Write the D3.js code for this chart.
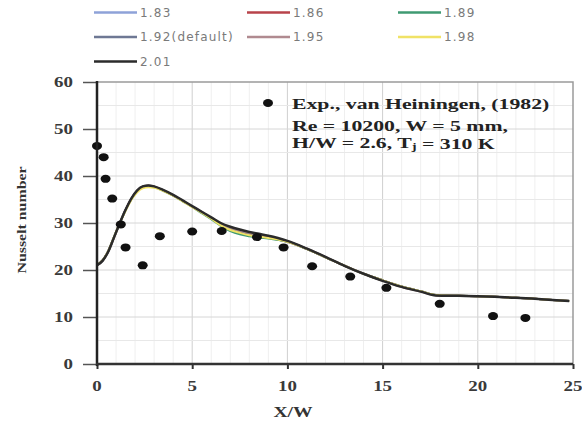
<!DOCTYPE html>
<html>
<head>
<meta charset="utf-8">
<style>
  body { margin: 0; background: #fff; }
  svg text { font-family: "Liberation Serif", "Times New Roman", serif; }
</style>
</head>
<body>
<div id="container"></div>
<script src="https://d3js.org/d3.v7.min.js"></script>
<script>
// ---- data ----
var xs = [0, 0.3, 0.6, 0.9, 1.2, 1.5, 1.8, 2.1, 2.4, 2.7, 3.0, 3.5, 4.0, 4.5, 5.0, 5.5, 6.0, 6.5, 7.0, 7.5, 8.0, 8.5, 9.0, 9.5, 10.0, 11.0, 12.0, 13.0, 14.0, 15.0, 16.0, 17.0, 17.8, 19.0, 20.0, 22.0, 24.8];

var nu183 = [21.1, 22.1, 24.1, 27.1, 30.0, 32.8, 35.1, 36.8, 37.7, 37.9, 37.7, 36.9, 35.9, 34.7, 33.5, 32.3, 31.0, 29.7, 28.8, 28.1, 27.6, 27.2, 26.9, 26.5, 26.0, 24.5, 22.7, 20.9, 19.2, 17.8, 16.5, 15.5, 14.7, 14.5, 14.4, 14.1, 13.4];
var nu186 = [21.1, 22.1, 24.1, 27.0, 30.0, 32.8, 35.1, 36.8, 37.7, 37.9, 37.7, 36.9, 35.9, 34.7, 33.5, 32.3, 31.0, 29.8, 28.9, 28.2, 27.7, 27.3, 26.9, 26.5, 26.0, 24.5, 22.7, 20.9, 19.2, 17.8, 16.5, 15.5, 14.7, 14.5, 14.4, 14.1, 13.4];
var nu189 = [21.1, 22.1, 24.1, 27.1, 30.0, 32.7, 35.0, 36.7, 37.6, 37.8, 37.6, 36.8, 35.8, 34.6, 33.4, 32.1, 30.8, 29.4, 28.3, 27.6, 27.2, 26.9, 26.7, 26.4, 26.0, 24.5, 22.7, 20.9, 19.2, 17.8, 16.5, 15.5, 14.7, 14.5, 14.4, 14.1, 13.4];
var nu192 = [21.0, 22.0, 24.0, 27.0, 30.0, 32.8, 35.1, 36.8, 37.7, 37.9, 37.7, 36.9, 35.9, 34.7, 33.5, 32.3, 31.1, 29.8, 28.9, 28.3, 27.8, 27.4, 27.0, 26.6, 26.1, 24.5, 22.7, 20.9, 19.2, 17.8, 16.5, 15.5, 14.7, 14.5, 14.4, 14.1, 13.4];
var nu195 = [21.0, 22.0, 24.0, 27.0, 30.0, 32.8, 35.1, 36.8, 37.7, 37.9, 37.7, 36.9, 35.9, 34.7, 33.5, 32.3, 31.1, 29.9, 29.0, 28.4, 27.9, 27.5, 27.1, 26.7, 26.1, 24.6, 22.8, 20.9, 19.2, 17.7, 16.4, 15.4, 14.6, 14.5, 14.4, 14.1, 13.4];
var nu198 = [21.1, 22.1, 24.1, 27.1, 30.0, 32.6, 34.9, 36.5, 37.4, 37.6, 37.5, 36.8, 35.8, 34.6, 33.4, 32.2, 30.9, 29.5, 28.5, 27.9, 27.4, 27.1, 26.8, 26.5, 26.0, 24.5, 22.7, 20.9, 19.2, 17.8, 16.5, 15.5, 14.7, 14.5, 14.4, 14.1, 13.4];
var nu201 = [21.0, 22.0, 24.0, 27.0, 30.0, 32.8, 35.2, 36.9, 37.8, 38.0, 37.8, 37.0, 36.0, 34.8, 33.6, 32.4, 31.2, 30.0, 29.2, 28.6, 28.1, 27.7, 27.3, 26.8, 26.2, 24.6, 22.8, 20.9, 19.2, 17.7, 16.4, 15.4, 14.6, 14.5, 14.4, 14.1, 13.4];

var seriesNames = ["1.83", "1.86", "1.89", "1.92(default)", "1.95", "1.98", "2.01"];
var seriesValues = [nu183, nu186, nu189, nu192, nu195, nu198, nu201];
var seriesColors = ["#8ea2d8", "#b8434a", "#3f9a72", "#6e7894", "#b08a90", "#f0e266", "#2b2b2b"];

// experiment, van Heiningen (1982)
var expX = [0.0, 0.35, 0.45, 0.8, 1.25, 1.5, 2.4, 3.3, 5.0, 6.55, 8.4, 9.8, 11.3, 13.3, 15.2, 18.0, 20.8, 22.5];
var expY = [46.4, 44.0, 39.4, 35.2, 29.7, 24.8, 21.0, 27.2, 28.2, 28.3, 27.0, 24.8, 20.8, 18.6, 16.2, 12.8, 10.2, 9.8];

var xTicks = [0, 5, 10, 15, 20, 25];
var yTicks = [0, 10, 20, 30, 40, 50, 60];

// ---- layout ----
var W = 582, H = 430;
var pL = 97, pR = 573, pT = 82, pB = 364;

var svg = d3.select("#container").append("svg")
    .attr("width", W)
    .attr("height", H);

var x = d3.scaleLinear().domain([0, 25]).range([pL, pR]);
var y = d3.scaleLinear().domain([0, 60]).range([pB, pT]);

// stretched text helper (reference glyphs are stretched horizontally)
function stext(g, px, py, str, size, anchor, fill, sx) {
  var t = g.append("g")
      .attr("transform", "translate(" + px + "," + py + ") scale(" + (sx || 1.35) + ",1)")
    .append("text")
      .attr("text-anchor", anchor)
      .attr("dominant-baseline", "central")
      .style("font-size", size + "px")
      .style("font-weight", "bold")
      .style("fill", fill)
      .text(str);
  return t;
}

// grid
var grid = svg.append("g");
grid.selectAll("line.mx").data(d3.range(1, 25)).enter().append("line")
    .attr("x1", function(d) { return x(d); }).attr("x2", function(d) { return x(d); })
    .attr("y1", pT).attr("y2", pB)
    .style("stroke", function(d) { return d % 5 == 0 ? "#cfcfcf" : "#efefef"; })
    .style("stroke-width", 1);
grid.selectAll("line.my").data(d3.range(5, 60, 5)).enter().append("line")
    .attr("x1", pL).attr("x2", pR)
    .attr("y1", function(d) { return y(d); }).attr("y2", function(d) { return y(d); })
    .style("stroke", function(d) { return d % 10 == 0 ? "#d6d6d6" : "#e8e8e8"; })
    .style("stroke-width", 1);

// frame top/right
svg.append("path")
    .attr("d", "M" + pL + "," + pT + "H" + pR + "V" + pB)
    .style("fill", "none").style("stroke", "#9a9a9a").style("stroke-width", 1.5);

// lines
var line = d3.line()
    .x(function(d, i) { return x(xs[i]); })
    .y(function(d) { return y(d); })
    .curve(d3.curveMonotoneX);

svg.append("g").selectAll("path").data(seriesValues).enter().append("path")
    .attr("d", line)
    .style("fill", "none")
    .style("stroke", function(d, i) { return seriesColors[i]; })
    .style("stroke-width", function(d, i) { return i == 6 ? 2.5 : 2; });

// experimental points
svg.append("g").selectAll("ellipse").data(expX).enter().append("ellipse")
    .attr("cx", function(d) { return x(d); })
    .attr("cy", function(d, i) { return y(expY[i]); })
    .attr("rx", 5).attr("ry", 4)
    .style("fill", "#111");

// axes
var yAxis = svg.append("g")
    .attr("transform", "translate(" + pL + ",0)")
    .call(d3.axisLeft(y).tickValues(yTicks).tickSize(14).tickFormat(""));
yAxis.select(".domain").remove();
yAxis.selectAll(".tick line").style("stroke", "#555").style("stroke-width", 1.5);

var xAxis = svg.append("g")
    .attr("transform", "translate(0," + pB + ")")
    .call(d3.axisBottom(x).tickValues(xTicks).tickSize(5).tickFormat(""));
xAxis.select(".domain").remove();
xAxis.selectAll(".tick line").style("stroke", "#333").style("stroke-width", 2);

svg.append("line").attr("x1", pL).attr("x2", pL).attr("y1", pT - 1).attr("y2", pB + 2)
    .style("stroke", "#222").style("stroke-width", 2.5);
svg.append("line").attr("x1", pL - 1).attr("x2", pR).attr("y1", pB).attr("y2", pB)
    .style("stroke", "#333").style("stroke-width", 2.5);

// tick labels
yTicks.forEach(function(v) {
  stext(svg, pL - 24, y(v), v, 14, "end", "#3a3a3a");
});
xTicks.forEach(function(v) {
  stext(svg, x(v), pB + 22, v, 14, "middle", "#3a3a3a");
});

// axis titles
stext(svg, 293, 412, "X/W", 14.5, "middle", "#333");
svg.append("text")
    .attr("transform", "translate(22,220) rotate(-90) scale(1.22,1)")
    .attr("text-anchor", "middle")
    .attr("dominant-baseline", "central")
    .style("font-size", "13px")
    .style("font-weight", "bold")
    .style("fill", "#333")
    .text("Nusselt number");

// annotation
svg.append("ellipse").attr("cx", 268).attr("cy", 103).attr("rx", 5).attr("ry", 4).style("fill", "#111");
stext(svg, 292, 104, "Exp., van Heiningen, (1982)", 15, "start", "#222", 1.45);
stext(svg, 292, 126, "Re = 10200, W = 5 mm,", 15, "start", "#222", 1.45);
var t3 = stext(svg, 292, 143, "H/W = 2.6, T", 15, "start", "#222", 1.45);
t3.append("tspan").attr("dy", 4).style("font-size", "10px").text("j");
t3.append("tspan").attr("dy", -4).text(" = 310 K");

// legend
var legX = [94, 247, 398];
var legY = [12.5, 37, 61.5];
seriesNames.forEach(function(name, i) {
  var cx = legX[i % 3], cy = legY[Math.floor(i / 3)];
  svg.append("line")
      .attr("x1", cx).attr("x2", cx + 43)
      .attr("y1", cy).attr("y2", cy)
      .style("stroke", seriesColors[i])
      .style("stroke-width", 2.5);
  svg.append("text")
      .attr("x", cx + 46).attr("y", cy)
      .attr("dominant-baseline", "central")
      .style("font-family", "DejaVu Sans, sans-serif")
      .style("font-size", "12px")
      .style("letter-spacing", "1.2px")
      .style("fill", "#7a7a7a")
      .text(name);
});
</script>
</body>
</html>
